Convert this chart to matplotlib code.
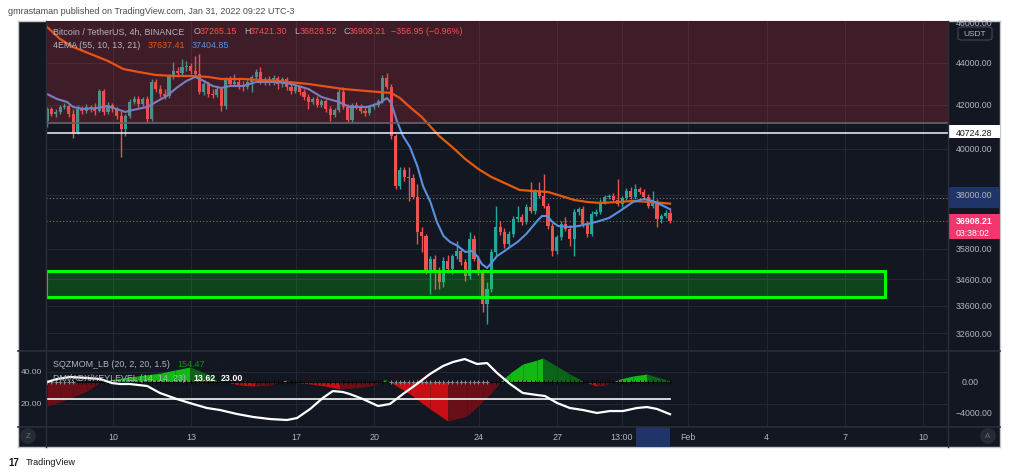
import matplotlib
matplotlib.use('Agg')
import matplotlib.pyplot as plt
from matplotlib.patches import Rectangle, FancyBboxPatch, Ellipse
from matplotlib.ticker import NullLocator

plt.rcParams['font.family'] = ['Liberation Sans', 'DejaVu Sans']

# ---- 4h candles, BTC/USDT, Jan 7 13:00 -> Jan 31 09:00 ----
opens = [41256, 41809, 41578, 41670, 41902, 41949, 41578, 40755, 41809, 41717,
         41902, 41809, 41717, 42654, 41670, 41996, 41809, 41486, 40890, 41486,
         42136, 42276, 42043, 42276, 41347, 43082, 42748, 42512, 42418, 43370,
         43611, 43515, 43805, 43854, 43611, 43466, 42606, 42987, 42512, 42465,
         42748, 41949, 43225, 42987, 43082, 42939, 42843, 43082, 43322, 43563,
         43082, 43225, 43034, 43273, 42987, 43225, 42843, 42654, 42843, 42606,
         42370, 42136, 42276, 41996, 42183, 41809, 41532, 41763, 42606, 41902,
         41301, 41996, 41902, 41717, 41624, 41902, 41996, 42183, 43273, 42843,
         40574, 38382, 39070, 38767, 38724, 37916, 36471, 36309, 34925, 35393,
         34886, 34500, 35315, 35002, 35512, 35709, 35276, 34731, 36188, 35393,
         34886, 33668, 34233, 35670, 36674, 36471, 35988, 36390, 37001, 37084,
         36878, 37498, 37332, 38170, 37959, 37540, 36715, 35709, 36269, 36797,
         36592, 36188, 37290, 37414, 36797, 36390, 37208, 37290, 37707, 37916,
         37959, 37790, 37623, 37874, 38170, 37916, 38254, 38127, 37916, 37540,
         37707, 37001, 37125, 37265.15]
highs = [41902, 41902, 41809, 41996, 42089, 42043, 41809, 41996, 41949, 42043,
         41996, 42089, 42748, 42748, 42136, 42089, 41902, 41717, 41578, 42276,
         42418, 42418, 42370, 42418, 43225, 43225, 42939, 42748, 43466, 44049,
         43805, 44196, 44098, 44000, 44343, 44442, 43130, 43082, 42748, 42843,
         42843, 43322, 43370, 43466, 43225, 43130, 43177, 43418, 43708, 43805,
         43322, 43370, 43418, 43370, 43322, 43322, 42987, 43034, 42939, 42748,
         42512, 42370, 42418, 42276, 42276, 41949, 41856, 42748, 42843, 42043,
         42089, 42136, 42043, 41902, 41996, 42089, 42276, 43418, 43515, 42987,
         40665, 39200, 39200, 39200, 38897, 38468, 36674, 36390, 35512, 35551,
         35080, 35472, 35551, 35591, 36108, 35828, 35393, 36471, 36350, 35512,
         35002, 34500, 35788, 37540, 36919, 36633, 36511, 37125, 37540, 37208,
         37623, 38553, 38254, 38553, 38897, 37665, 36837, 36350, 36919, 37084,
         36756, 37414, 37498, 37540, 36919, 37332, 37414, 37832, 38001, 38043,
         38085, 38681, 37959, 38297, 38340, 38468, 38340, 38254, 38043, 38170,
         37832, 37208, 37373, 37421.30]
lows = [40982, 41486, 41440, 41578, 41809, 41440, 40484, 40665, 41578, 41624,
        41670, 41532, 41670, 41532, 41578, 41670, 41347, 39638, 40574, 41393,
        42043, 41902, 41949, 41164, 41256, 42606, 42370, 42276, 42323, 43225,
        43322, 43418, 43611, 43466, 43322, 42512, 42465, 42370, 42323, 42370,
        41717, 41809, 42891, 42939, 42748, 42654, 42748, 42606, 43225, 42987,
        42939, 42939, 42939, 42748, 42843, 42701, 42512, 42559, 42465, 42229,
        41809, 42043, 41902, 41902, 41670, 41256, 41440, 41670, 41809, 41210,
        41164, 41809, 41624, 41486, 41532, 41809, 41902, 42089, 42748, 40439,
        38254, 38254, 38596, 37748, 37832, 35988, 35670, 34809, 34044, 34233,
        34233, 34309, 34847, 34809, 35393, 35158, 34539, 34615, 35315, 34770,
        33369, 32928, 34120, 35551, 36350, 35828, 35908, 36269, 36878, 36756,
        36797, 37249, 37208, 37874, 37456, 36592, 35512, 35591, 36148, 36511,
        35908, 35512, 37166, 36674, 36269, 36309, 37125, 37208, 37623, 37832,
        37707, 37540, 37498, 37790, 37832, 37832, 38043, 37832, 37456, 37456,
        36674, 36837, 37042, 36828.52]
closes = [41809, 41578, 41670, 41902, 41949, 41578, 40755, 41809, 41717, 41902,
          41809, 41717, 42654, 41670, 41996, 41809, 41486, 40890, 41486, 42136,
          42276, 42043, 42276, 41347, 43082, 42748, 42512, 42418, 43370, 43611,
          43515, 43805, 43854, 43611, 43466, 42606, 42987, 42512, 42465, 42748,
          41949, 43225, 42987, 43082, 42939, 42843, 43082, 43322, 43563, 43082,
          43225, 43034, 43273, 42987, 43225, 42843, 42654, 42843, 42606, 42370,
          42136, 42276, 41996, 42183, 41809, 41532, 41763, 42606, 41902, 41301,
          41996, 41902, 41717, 41624, 41902, 41996, 42183, 43273, 42843, 40574,
          38382, 39070, 38767, 38724, 37916, 36471, 36309, 34925, 35393, 34886,
          34500, 35315, 35002, 35512, 35709, 35276, 34731, 36188, 35393, 34886,
          33668, 34233, 35670, 36674, 36471, 35988, 36390, 37001, 37084, 36878,
          37498, 37332, 38170, 37959, 37540, 36715, 35709, 36269, 36797, 36592,
          36188, 37290, 37414, 36797, 36390, 37208, 37290, 37707, 37916, 37959,
          37790, 37623, 37874, 38170, 37916, 38254, 38127, 37916, 37540, 37707,
          37001, 37125, 37265.15, 36908.21]

# EMA lines (bar index, price)
ema55_x = [0, 3, 6, 10, 14, 17.5, 21, 25, 29, 33, 37, 40, 45, 53, 60, 68, 76, 79, 81, 83,
           86, 90, 93, 96, 99, 102, 106, 108.5, 111.5, 115, 118, 121, 124, 127, 131, 134.5, 138.5, 143]
ema55 = [45800, 45189, 44789, 44442, 44098, 43708, 43563, 43418, 43370, 43370,
         43322, 43225, 43225, 43130, 42987, 42748, 42606, 42559, 42323, 41949,
         41440, 40574, 40081, 39550, 39113, 38767, 38425, 38212, 38170, 38127,
         37959, 37790, 37707, 37665, 37707, 37748, 37707, 37637.41]
ema10_x = [0, 2.3, 4.6, 6, 8.3, 11.5, 13.8, 16, 18, 19.7, 23, 25, 27.5, 30, 32, 34, 36, 38, 40, 42,
           45, 48, 53, 56, 60, 63, 67, 69.5, 73.5, 76.4, 78, 79, 80.3, 81.7, 83.3, 85, 86.3, 88, 89.5, 91,
           92.5, 94.3, 96, 97.5, 98.7, 99.8, 101, 102, 103.3, 104.7, 106.3, 108, 110, 112.5, 113.6, 114.8,
           116, 117.3, 120, 122, 124, 126, 129, 131.5, 134.5, 137, 139, 141.5, 143]
ema10 = [42512, 42276, 42136, 41902, 41809, 41856, 41949, 41809, 41670, 41763,
         41902, 42136, 42418, 42843, 43130, 43322, 43130, 42891, 42796, 42891,
         42891, 43082, 43082, 42987, 42748, 42370, 42136, 41902, 41902, 42089,
         42323, 42089, 41256, 40574, 40081, 39243, 38382, 37707, 36878, 36309,
         36068, 35908, 35670, 35709, 35512, 35198, 35041, 35237, 35512, 35670,
         35868, 36068, 36390, 36919, 37125, 37125, 36878, 36715, 36674, 36715,
         36797, 36878, 37042, 37332, 37707, 37832, 37748, 37540, 37404.85]

# squeeze momentum (bar index, value)
mom_x = [0, 3, 6, 9.2, 12.2, 15.6, 20.7, 26, 29.4, 32.8, 36.3, 39.7, 40.9, 44.3, 47.7, 51.2,
         53.5, 54.9, 55.8, 56.2, 60.4, 63.8, 67.2, 70.7, 74.1, 76.9, 77.6, 78.7, 83.3, 87.9,
         92, 96.4, 100.1, 102.4, 104, 106.3, 109.2, 112.5, 113.8, 117, 120, 123, 123.5,
         126.2, 128.1, 129.9, 131.5, 134.5, 137.7, 140.7, 143]
mom = [-3100, -2580, -1935, -1160, 0, 390, 770, 1160, 1550, 1935, 1160, 0, 0, -390, -520, -390,
       0, 260, 0, 0, -260, -520, -900, -770, -520, 0, 390, 0, -1550, -3480,
       -5030, -4390, -2450, -1160, 0, 1160, 2320, 2840, 3100, 2060, 1030, 130, 0,
       -520, -390, 0, 390, 770, 1030, 520, 154.47]
sqz_off_spans = [(0, 6), (79, 101)]

# ADX (bar index, value)
adx_x = [0, 2.3, 5.3, 9.2, 12.2, 14.9, 16.8, 19.0, 23.0, 25.9, 29.8, 33.5, 36.7, 39.7, 43.6,
         47.3, 51.2, 55.1, 57.4, 60.4, 63.3, 65.6, 67.9, 69.5, 72.5, 76.0, 78.7, 81.7, 84.9,
         87.9, 90.9, 93.2, 95.9, 98.7, 101.0, 103.3, 106.3, 109.2, 112.5, 114.3, 117.1, 120.0,
         123.0, 126.2, 129.2, 132.2, 135.4, 137.7, 140.0, 143]
adx = [33.75, 35.6, 36.9, 36.25, 35.6, 33.1, 32.5, 32.5, 31.25, 26.9, 23.1, 20.0, 17.5, 16.25,
       13.75, 11.9, 10.6, 10.0, 11.25, 16.9, 23.75, 28.1, 27.5, 26.25, 23.1, 18.75, 20.0, 26.25,
       32.5, 38.75, 43.75, 46.25, 48.1, 45.0, 45.6, 39.4, 32.5, 26.9, 25.6, 25.0, 20.6, 17.5,
       16.25, 14.4, 15.6, 15.6, 17.5, 18.1, 16.9, 13.62]
key_level = 23

price_ticks = [44000, 42000, 40000, 35800, 34600, 33600, 32600]
date_labels = ['10', '13', '17', '20', '24', '27', '13:00', 'Feb', '4', '7', '10']
date_days = [10, 13, 17, 20, 24, 27, 29.47, 32, 35, 38, 41]   # days after Jan 0

last_price = 36908.21
hline_price = 40724.28
zone_red = (41150, 47000)
zone_green = (33930, 34925)

BG = '#131722'
GRID = '#232733'
TXT = '#b2b5be'
UP, DN = '#26a69a', '#ef5350'
W, H = 1024, 477


def fx(x):
    return x / W


def fy(y):
    return 1 - y / H


def px_axes(x0, y0, x1, y1):
    return fig.add_axes([fx(x0), fy(y1), (x1 - x0) / W, (y1 - y0) / H])


fig = plt.figure(figsize=(W / 100, H / 100), dpi=100)
fig.patch.set_facecolor('white')

frame = px_axes(18, 22, 1000, 448)
frame.set_facecolor(BG)
frame.set_xticks([])
frame.set_yticks([])
for s in frame.spines.values():
    s.set_color('#c4c7ce')
    s.set_linewidth(1)

xlim = (-0.23, 206.8)
tick_x = [(d - 7.5417) * 6 + 0.4 for d in date_days]

# ---------------- main price pane ----------------
ax = px_axes(46, 22, 948, 352)
ax.set_facecolor(BG)
ax.set_yscale('log')
ax.set_ylim(31955, 46101)
ax.set_xlim(*xlim)
ax.yaxis.set_minor_locator(NullLocator())
ax.set_yticks(price_ticks + [38000])
ax.set_yticklabels([])
ax.set_xticks(tick_x)
ax.set_xticklabels([])
ax.tick_params(length=0)
ax.grid(True, color=GRID, lw=0.8)
for s in ax.spines.values():
    s.set_visible(False)

idx = list(range(len(closes)))
for i in idx:
    c = UP if closes[i] >= opens[i] else DN
    ax.vlines(i, lows[i], highs[i], color=c, lw=1.0, zorder=3)
    lo, hi = min(opens[i], closes[i]), max(opens[i], closes[i])
    ax.bar(i, max(hi - lo, 8), bottom=lo, width=0.72, color=c, lw=0, zorder=4)

ax.plot(ema55_x, ema55, color='#e65a0c', lw=1.6, zorder=5)
ax.plot(ema10_x, ema10, color='#5b8fe0', lw=1.5, zorder=5)

ax.add_patch(Rectangle((xlim[0], zone_red[0]), xlim[1] - xlim[0], zone_red[1] - zone_red[0],
                       facecolor='#f23645', alpha=0.2, lw=0, zorder=6))
ax.axhline(zone_red[0], color='#5d606b', lw=1.3, zorder=6)
ax.axhline(hline_price, color='#e0e3eb', lw=1.2, zorder=6)
gx1 = (885 - 47) / 4.357
ax.add_patch(Rectangle((xlim[0], zone_green[0]), gx1 - xlim[0], zone_green[1] - zone_green[0],
                       facecolor=(0, 1, 0, 0.2), edgecolor='#00ff00', lw=2.2, zorder=6))
ax.axhline(37874, color='#787b86', lw=0.8, ls=(0, (1, 2)), zorder=2)
ax.axhline(last_price, color='#f23645', lw=0.8, ls=(0, (1, 2)), zorder=2)

# ---------------- oscillator pane ----------------
ax2 = px_axes(46, 352, 948, 428)
ax2.set_facecolor(BG)
ax2.set_xlim(*xlim)
ax2.set_ylim(5.625, 53.125)
ax2.set_xticks(tick_x)
ax2.set_xticklabels([])
ax2.set_yticks([20, 40])
ax2.set_yticklabels([])
ax2.tick_params(length=0)
ax2.grid(True, color=GRID, lw=0.8)
for s in ax2.spines.values():
    s.set_visible(False)

ax3 = ax2.twinx()
ax3.set_ylim(-5806, 4000)
ax3.set_yticks([])
for s in ax3.spines.values():
    s.set_visible(False)
for i in range(len(mom) - 1):
    v0, v1 = mom[i], mom[i + 1]
    if v0 == 0 and v1 == 0:
        continue
    mid = (v0 + v1) / 2
    if mid >= 0:
        col = '#12b814' if v1 > v0 else '#0b6418'
    else:
        col = '#6a0f17' if v1 > v0 else '#c80d14'
    ax3.fill_between([mom_x[i], mom_x[i + 1]], [0, 0], [v0, v1], color=col, lw=0, zorder=2)
cross_cols = []
for i in idx:
    off = any(a <= i <= b for a, b in sqz_off_spans)
    cross_cols.append('#8a8d96' if off else '#050505')
ax3.scatter(idx, [0] * len(idx), marker='+', s=7, c=cross_cols, lw=0.7, zorder=3)
ax3.plot([0, 143], [0, 0], color='#050505', lw=0.6, zorder=2)

ax4 = ax2.twinx()
ax4.set_ylim(5.625, 53.125)
ax4.set_yticks([])
for s in ax4.spines.values():
    s.set_visible(False)
ax4.plot([0, 143], [key_level, key_level], color='#e8e8e8', lw=1.3, zorder=4)
ax4.plot(adx_x, adx, color='white', lw=1.6, zorder=5)

# ---------------- separators ----------------
for y in (352, 428):
    fig.add_artist(plt.Line2D([fx(18), fx(1000)], [fy(y), fy(y)], color='#2a2e39', lw=1.2))
for x in (46, 948):
    fig.add_artist(plt.Line2D([fx(x), fx(x)], [fy(22), fy(448)], color='#2a2e39', lw=1.0))

# ---------------- right price scale ----------------
axr = px_axes(948, 22, 1000, 352)
axr.set_yscale('log')
axr.set_ylim(31955, 46101)
axr.set_xlim(0, 1)
axr.axis('off')
for p in price_ticks:
    axr.text(0.15, p, f'{p:.2f}', color=TXT, fontsize=6.3, va='center', ha='left')
axr.add_patch(Rectangle((0, 37450), 1, 38330 - 37450, facecolor='#1f3468', lw=0))
axr.text(0.15, 38000, '38000.00', color=TXT, fontsize=6.3, va='center', ha='left')
axr.add_patch(Rectangle((0, 40500), 1, 41060 - 40500, facecolor='white', lw=0))
axr.text(0.15, hline_price, f'{hline_price:.2f}', color='#131722', fontsize=6.3,
         va='center', ha='left')
axr.add_patch(Rectangle((0, 36188), 1, 37215 - 36188, facecolor='#f2366e', lw=0))
axr.text(0.15, 36920, f'{last_price:.2f}', color='white', fontsize=6.3, va='center',
         ha='left', fontweight='bold')
axr.text(0.15, 36455, '03:38:02', color='white', fontsize=6.3, va='center', ha='left')

fig.text(fx(956), fy(23), '46000.00', color=TXT, fontsize=6.3, va='center', ha='left')
fig.add_artist(FancyBboxPatch((fx(958), fy(41)), fx(34), 13 / H,
                              boxstyle='round,pad=0,rounding_size=0.004',
                              facecolor=BG, edgecolor='#434651', lw=0.8,
                              transform=fig.transFigure))
fig.text(fx(975), fy(34), 'USDT', color=TXT, fontsize=6.0, va='center', ha='center')

# oscillator scales
fig.text(fx(42), fy(373), '40.00', color=TXT, fontsize=6.0, va='center', ha='right')
fig.text(fx(42), fy(405), '20.00', color=TXT, fontsize=6.0, va='center', ha='right')
fig.text(fx(962), fy(383), '0.00', color=TXT, fontsize=6.3, va='center', ha='left')
fig.text(fx(956), fy(414), '\u22124000.00', color=TXT, fontsize=6.3, va='center', ha='left')

# ---------------- time axis ----------------
axt = px_axes(46, 428, 948, 448)
axt.set_xlim(*xlim)
axt.set_ylim(0, 1)
axt.axis('off')
axt.add_patch(Rectangle(((636 - 47) / 4.357, 0), (670 - 636) / 4.357, 1,
                        facecolor='#1f3468', lw=0))
for k, lab in zip(tick_x, date_labels):
    axt.text(k, 0.5, lab, color=TXT, fontsize=6.4, va='center', ha='center')
for cx, letter in ((28, 'Z'), (988, 'A')):
    fig.add_artist(Ellipse((fx(cx), fy(437)), 16 / W, 16 / H, facecolor='#262a35', lw=0,
                           transform=fig.transFigure))
    fig.text(fx(cx), fy(437), letter, color='#6a6d78', fontsize=5.8, va='center', ha='center')

# ---------------- legends ----------------
fs = 6.4
fig.text(fx(53), fy(32), 'Bitcoin / TetherUS, 4h, BINANCE', color=TXT, fontsize=fs, va='center')
for x0, lab, val in ((194, 'O', '37265.15'), (244, 'H', '37421.30'),
                     (294, 'L', '36828.52'), (343, 'C', '36908.21')):
    fig.text(fx(x0), fy(32), lab, color=TXT, fontsize=fs, va='center')
    fig.text(fx(x0 + 6), fy(32), val, color=DN, fontsize=fs, va='center')
fig.text(fx(391), fy(32), '\u2212356.95 (\u22120.96%)', color=DN, fontsize=fs, va='center')
fig.text(fx(53), fy(45), '4EMA (55, 10, 13, 21)', color=TXT, fontsize=fs, va='center')
fig.text(fx(148), fy(45), '37637.41', color='#e65a0c', fontsize=fs, va='center')
fig.text(fx(192), fy(45), '37404.85', color='#5b8fe0', fontsize=fs, va='center')

fig.text(fx(53), fy(365), 'SQZMOM_LB (20, 2, 20, 1.5)', color=TXT, fontsize=fs, va='center',
         zorder=10)
fig.text(fx(177), fy(365), '154.47', color='#0a8f1a', fontsize=fs, va='center', zorder=10)
fig.text(fx(209), fy(365), '0.00', color='#1a1a1a', fontsize=fs, va='center', zorder=10)
fig.text(fx(53), fy(379), 'DMI/ADX/KEYLEVEL (14, 14, 23)', color=TXT, fontsize=fs,
         va='center', zorder=1)
fig.text(fx(193), fy(379), '13.62', color='white', fontsize=fs, va='center',
         fontweight='bold', zorder=10)
fig.text(fx(221), fy(379), '23.00', color='white', fontsize=fs, va='center',
         fontweight='bold', zorder=10)

# header / footer
fig.text(fx(8), fy(11), 'gmrastaman published on TradingView.com, Jan 31, 2022 09:22 UTC-3',
         color='#4a4a4a', fontsize=6.5, va='center')
fig.text(fx(8), fy(463), '17', color='#131722', fontsize=7, va='center', fontweight='bold')
fig.text(fx(26), fy(463), 'TradingView', color='#131722', fontsize=6.5, va='center')

fig.savefig('out.png', dpi=100, facecolor='white')
